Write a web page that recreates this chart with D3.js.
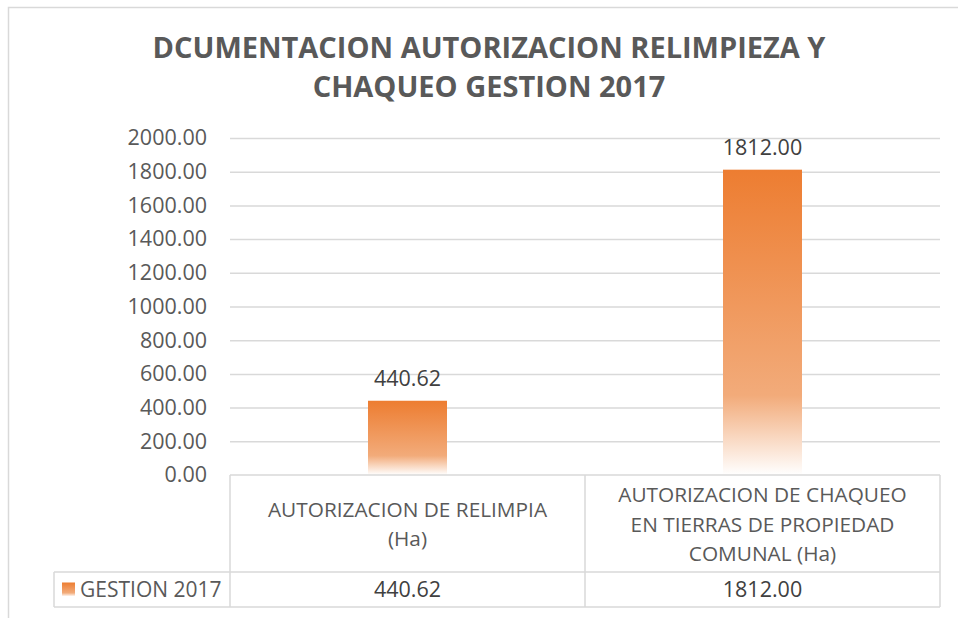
<!DOCTYPE html>
<html>
<head>
<meta charset="utf-8">
<script src="https://cdn.jsdelivr.net/npm/d3@7"></script>
<style>
  body { margin: 0; background: #fff; }
  text { font-family: "Open Sans", sans-serif; }
</style>
</head>
<body>
<div id="chart"></div>
<script>
// chart data
const categories = ['cat1', 'cat2'];
const categoryLines = [
  ['AUTORIZACION DE RELIMPIA', '(Ha)'],
  ['AUTORIZACION DE CHAQUEO', 'EN TIERRAS DE PROPIEDAD', 'COMUNAL (Ha)']
];
const seriesName = 'GESTION 2017';
const values = [440.62, 1812.00];
const yTicks = [0, 200, 400, 600, 800, 1000, 1200, 1400, 1600, 1800, 2000];
const titleLines = ['DCUMENTACION AUTORIZACION RELIMPIEZA Y', 'CHAQUEO GESTION 2017'];

const W = 958, H = 618;
const margin = {top: 138, right: 18, bottom: 143, left: 230};
const width = W - margin.left - margin.right,
      height = H - margin.top - margin.bottom;
const gridColor = '#d9d9d9';

const svg = d3.select('#chart').append('svg')
  .attr('width', W).attr('height', H);

// gradient fill for bars
const defs = svg.append('defs');
const grad = defs.append('linearGradient')
  .attr('id', 'barGrad')
  .attr('x1', 0).attr('y1', 0).attr('x2', 0).attr('y2', 1);
grad.append('stop').attr('offset', '0%').attr('stop-color', '#ed7d31');
grad.append('stop').attr('offset', '74%').attr('stop-color', '#f2ab7a');
grad.append('stop').attr('offset', '100%').attr('stop-color', '#ffffff');

// outer frame (top + left edge)
svg.append('path')
  .attr('d', `M8.5,${H} V7.5 H${W}`)
  .attr('fill', 'none').attr('stroke', gridColor).attr('stroke-width', 1.5);

// title
svg.append('text')
  .attr('text-anchor', 'middle')
  .attr('font-size', 29).attr('font-weight', 'bold').attr('fill', '#595959')
  .selectAll('tspan').data(titleLines).join('tspan')
    .attr('x', 489).attr('y', (d, i) => 58 + i * 39)
    .text(d => d);

const g = svg.append('g')
  .attr('transform', `translate(${margin.left},${margin.top})`);

const x = d3.scaleBand().domain(categories).range([0, width]).padding(0);
const y = d3.scaleLinear().domain([0, 2000]).range([height, 0]);

// gridlines
g.append('g')
  .selectAll('line').data(yTicks.slice(1)).join('line')
    .attr('x1', 0).attr('x2', width)
    .attr('y1', d => y(d) + 0.5).attr('y2', d => y(d) + 0.5)
    .attr('stroke', gridColor).attr('stroke-width', 1.5);

// y axis
const yAxis = g.append('g')
  .call(d3.axisLeft(y).tickValues(yTicks).tickFormat(d3.format('.2f')).tickSize(0).tickPadding(23));
yAxis.select('.domain').remove();
yAxis.selectAll('text')
  .attr('font-size', 21.5).attr('fill', '#595959')
  .attr('font-family', '"Open Sans", sans-serif');

// bars
const barW = 79;
g.selectAll('.bar').data(values).join('rect')
  .attr('class', 'bar')
  .attr('x', (d, i) => x(categories[i]) + x.bandwidth() / 2 - barW / 2)
  .attr('y', d => y(d))
  .attr('width', barW)
  .attr('height', d => height - y(d))
  .attr('fill', 'url(#barGrad)');

// data labels
g.selectAll('.lbl').data(values).join('text')
  .attr('class', 'lbl')
  .attr('x', (d, i) => x(categories[i]) + x.bandwidth() / 2)
  .attr('y', d => y(d) - 15)
  .attr('text-anchor', 'middle')
  .attr('font-size', 21.5).attr('fill', '#404040')
  .text(d => d3.format('.2f')(d));

// data table
const rowTop = height, catRowBottom = height + 97, tableBottom = height + 132;
const legendLeft = 54 - margin.left;
const tbl = g.append('g').attr('stroke', gridColor).attr('stroke-width', 1.5).attr('fill', 'none');
tbl.append('line').attr('x1', 0).attr('x2', width).attr('y1', rowTop).attr('y2', rowTop);
tbl.append('line').attr('x1', legendLeft).attr('x2', width).attr('y1', catRowBottom).attr('y2', catRowBottom);
tbl.append('line').attr('x1', legendLeft).attr('x2', width).attr('y1', tableBottom).attr('y2', tableBottom);
tbl.append('line').attr('x1', legendLeft).attr('x2', legendLeft).attr('y1', catRowBottom).attr('y2', tableBottom);
[0, x.bandwidth(), width].forEach(px => {
  tbl.append('line').attr('x1', px).attr('x2', px).attr('y1', rowTop).attr('y2', tableBottom);
});

// category labels
categories.forEach((c, i) => {
  const lines = categoryLines[i];
  const cy = (rowTop + catRowBottom) / 2;
  const lh = 29.5;
  g.append('text')
    .attr('text-anchor', 'middle')
    .attr('font-size', 20.8).attr('fill', '#595959')
    .selectAll('tspan').data(lines).join('tspan')
      .attr('x', x(c) + x.bandwidth() / 2)
      .attr('y', (d, k) => cy + (k - (lines.length - 1) / 2) * lh + 8)
      .text(d => d);
});

// legend row
const rowMid = (catRowBottom + tableBottom) / 2;
g.append('rect')
  .attr('x', 62 - margin.left).attr('y', rowMid - 7)
  .attr('width', 13).attr('height', 14)
  .attr('fill', 'url(#barGrad)');
g.append('text')
  .attr('x', 80 - margin.left).attr('y', rowMid + 7.5)
  .attr('font-size', 21).attr('fill', '#595959')
  .text(seriesName);
g.selectAll('.tv').data(values).join('text')
  .attr('class', 'tv')
  .attr('x', (d, i) => x(categories[i]) + x.bandwidth() / 2)
  .attr('y', rowMid + 7.5)
  .attr('text-anchor', 'middle')
  .attr('font-size', 21.5).attr('fill', '#404040')
  .text(d => d3.format('.2f')(d));
</script>
</body>
</html>
